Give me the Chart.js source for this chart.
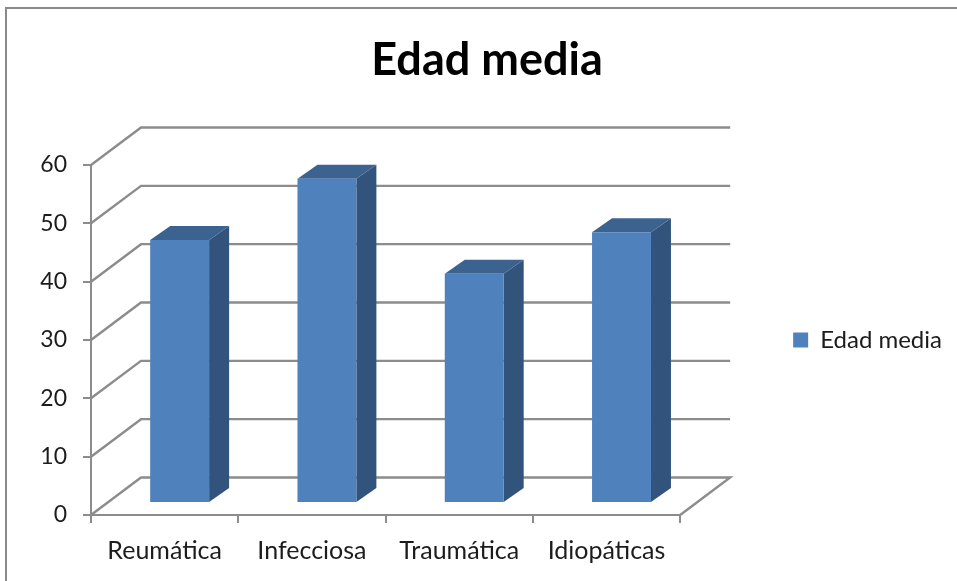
<!DOCTYPE html>
<html lang="es">
<head>
<meta charset="utf-8">
<title>Edad media</title>
<script src="https://cdn.jsdelivr.net/npm/chart.js@4"></script>
<style>
    html, body { margin: 0; padding: 0; background: #fff; overflow: hidden; }
    #marco { position: absolute; left: 5px; top: 7px; right: 0; bottom: 0; border-top: 2px solid #8a8a8a; border-left: 2px solid #8a8a8a; }
    #grafico { position: absolute; left: 0; top: 0; filter: blur(0.5px); }
</style>
</head>
<body>
<div id="marco"></div>
<canvas id="grafico" width="957" height="581"></canvas>
<script>
// Datos
const categorias = ['Reumática', 'Infecciosa', 'Traumática', 'Idiopáticas'];
const edadMedia = [45.1, 55.6, 39.3, 46.4];
const serieNombre = 'Edad media';

const fuente = 'Lato, "Open Sans", sans-serif';
const colorEje = '#8c8c8c';
const colorTexto = '#1c1c1c';

// Perspectiva falsa: fondo de la pared, desplazamiento de la barra y su profundidad
const pared = { dx: 50, dy: -37.5 };
const barraDesp = { dx: 15, dy: -12 };
const barraFondo = { dx: 20, dy: -14 };

function poligono(ctx, puntos, color) {
    ctx.fillStyle = color;
    ctx.beginPath();
    puntos.forEach((p, i) => i ? ctx.lineTo(p[0], p[1]) : ctx.moveTo(p[0], p[1]));
    ctx.closePath();
    ctx.fill();
}

// Rejilla en la pared del fondo y suelo
const paredPlugin = {
    id: 'pared',
    beforeDatasetsDraw(chart) {
        const { ctx, scales } = chart;
        const izq = scales.x.left;
        const der = scales.x.right;
        ctx.save();
        ctx.strokeStyle = colorEje;
        ctx.lineWidth = 2.4;
        scales.y.ticks.forEach(t => {
            const y = scales.y.getPixelForValue(t.value);
            ctx.beginPath();
            ctx.moveTo(izq, y);
            ctx.lineTo(izq + pared.dx, y + pared.dy);
            ctx.lineTo(der + pared.dx, y + pared.dy);
            if (t.value === 0) ctx.lineTo(der, y);
            ctx.stroke();
        });
        ctx.restore();
    }
};

// Barras con cara lateral y superior
const barras3dPlugin = {
    id: 'barras3d',
    beforeDatasetDraw(chart) {
        const ctx = chart.ctx;
        ctx.save();
        ctx.translate(barraDesp.dx, barraDesp.dy);
        chart.getDatasetMeta(0).data.forEach(b => {
            const i = b.x - b.width / 2;
            const d = b.x + b.width / 2;
            const f = barraFondo;
            poligono(ctx, [[d, b.y], [d + f.dx, b.y + f.dy], [d + f.dx, b.base + f.dy], [d, b.base]], '#31537c');
            poligono(ctx, [[i, b.y], [i + f.dx, b.y + f.dy], [d + f.dx, b.y + f.dy], [d, b.y]], '#3c628f');
        });
    },
    afterDatasetDraw(chart) {
        chart.ctx.restore();
    }
};

const grafico = new Chart(document.getElementById('grafico').getContext('2d'), {
    type: 'bar',
    data: {
        labels: categorias,
        datasets: [{
            label: serieNombre,
            data: edadMedia,
            backgroundColor: '#4f81bd',
            borderWidth: 0,
            categoryPercentage: 0.4,
            barPercentage: 1,
            clip: false
        }]
    },
    options: {
        responsive: false,
        animation: false,
        layout: { padding: { left: 22, right: 5, top: 0, bottom: 0 } },
        scales: {
            x: {
                afterFit: s => { s.height = 66; },
                border: { color: colorEje, width: 2 },
                grid: { drawOnChartArea: false, color: colorEje, lineWidth: 2, tickLength: 8 },
                ticks: { color: colorTexto, font: { family: fuente, size: 25 }, padding: 13, maxRotation: 0, autoSkip: false }
            },
            y: {
                min: 0,
                max: 60,
                afterFit: s => { s.width = 69; },
                border: { color: colorEje, width: 2 },
                grid: { drawOnChartArea: false, color: colorEje, lineWidth: 2, tickLength: 8 },
                ticks: { stepSize: 10, color: colorTexto, font: { family: fuente, size: 23 }, padding: 16 }
            },
            // Eje vacío: solo reserva el hueco entre el gráfico y la leyenda
            hueco: {
                position: 'right',
                afterFit: s => { s.width = 96; },
                border: { display: false },
                grid: { display: false },
                ticks: { display: false }
            }
        },
        plugins: {
            title: {
                display: true,
                text: serieNombre,
                color: '#000',
                font: { family: fuente, size: 45, weight: 'bold', lineHeight: 1.2 },
                padding: { top: 33, bottom: 78 }
            },
            legend: {
                position: 'right',
                fullSize: false,
                maxWidth: 220,
                labels: { color: colorTexto, font: { family: fuente, size: 24 }, boxWidth: 15, boxHeight: 15, padding: 17 }
            },
            tooltip: { enabled: false }
        }
    },
    plugins: [paredPlugin, barras3dPlugin]
});
</script>
</body>
</html>
